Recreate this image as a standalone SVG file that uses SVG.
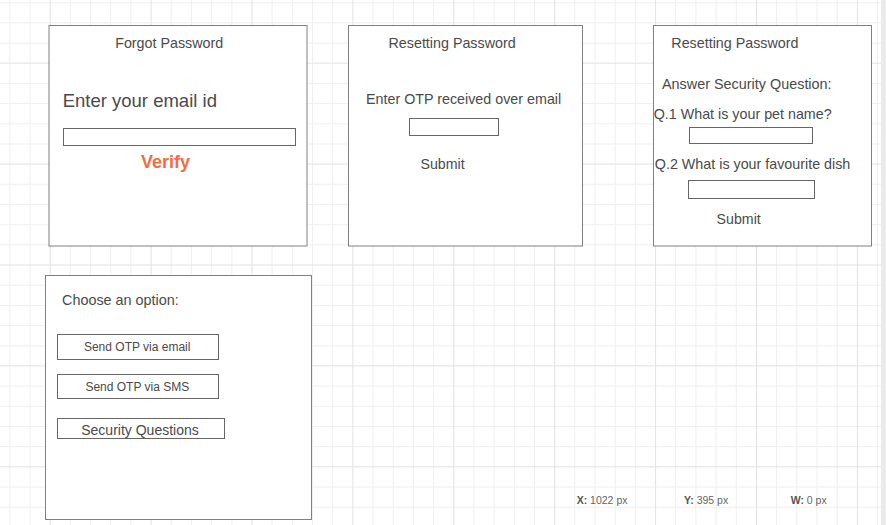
<svg xmlns="http://www.w3.org/2000/svg" width="886" height="525" viewBox="0 0 886 525">
<style>
.minor{stroke:#efefef;stroke-width:1;fill:none}
.major{stroke:#e2e2e2;stroke-width:1;fill:none}
.box{fill:#ffffff;stroke:#808080;stroke-width:1}
.input{fill:#ffffff;stroke:#666666;stroke-width:1}
.t{font-family:"Liberation Sans",Arial,sans-serif;fill:#4a4a4a}
.c{text-anchor:middle}
.st{font-family:"Liberation Sans",Arial,sans-serif;font-size:10.5px;fill:#666666}
.stb{font-weight:bold;fill:#555555}
</style>
<rect x="0" y="0" width="886" height="525" fill="#ffffff"/>
<g id="grid">
<path class="minor" d="M9.8 0V525M30 0V525M70.3 0V525M90.5 0V525M110.7 0V525M130.9 0V525M171.2 0V525M191.4 0V525M211.6 0V525M231.8 0V525M272.1 0V525M292.3 0V525M312.5 0V525M332.7 0V525M373 0V525M393.2 0V525M413.4 0V525M433.6 0V525M473.9 0V525M494.1 0V525M514.3 0V525M534.5 0V525M574.8 0V525M595 0V525M615.2 0V525M635.4 0V525M675.7 0V525M695.9 0V525M716.1 0V525M736.3 0V525M776.6 0V525M796.8 0V525M817 0V525M837.2 0V525M877.5 0V525M0 2.7H886M0 22.9H886M0 43.1H886M0 83.4H886M0 103.6H886M0 123.8H886M0 144H886M0 184.3H886M0 204.5H886M0 224.7H886M0 244.9H886M0 285.2H886M0 305.4H886M0 325.6H886M0 345.8H886M0 386.1H886M0 406.3H886M0 426.5H886M0 446.7H886M0 487H886M0 507.2H886"/>
<path class="major" d="M50.2 0V525M151.1 0V525M252 0V525M352.9 0V525M453.8 0V525M554.7 0V525M655.6 0V525M756.5 0V525M857.4 0V525M0 63.2H886M0 164.1H886M0 265H886M0 365.9H886M0 466.8H886"/>
<rect x="881" y="0" width="5" height="525" fill="#ebebeb"/>
</g>
<g id="connectors"/>
<g id="forgot-password">
<rect class="box" x="49" y="25.5" width="258" height="220.5"/>
<text class="t c" x="169.2" y="47.5" font-size="14.3">Forgot Password</text>
<text class="t" x="62.7" y="107.3" font-size="18.5">Enter your email id</text>
<rect class="input" x="63.5" y="128.5" width="232" height="17"/>
<text class="c" x="165.5" y="168.3" font-family="Liberation Sans, Arial, sans-serif" font-size="18" font-weight="bold" fill="#f36c44">Verify</text>
</g>
<g id="reset-otp">
<rect class="box" x="348.5" y="25.5" width="234" height="220.5"/>
<text class="t c" x="452.1" y="47.5" font-size="14.3">Resetting Password</text>
<text class="t c" x="463.6" y="104" font-size="14.3">Enter OTP received over email</text>
<rect class="input" x="409.5" y="118.5" width="89" height="17"/>
<text class="t c" x="442.5" y="169" font-size="14.2">Submit</text>
</g>
<g id="reset-security">
<rect class="box" x="653.5" y="25.5" width="218" height="220.5"/>
<text class="t c" x="734.9" y="47.5" font-size="14.3">Resetting Password</text>
<text class="t c" x="746.8" y="88.5" font-size="14.4">Answer Security Question:</text>
<text class="t c" x="742.7" y="118.5" font-size="14.3">Q.1 What is your pet name?</text>
<rect class="input" x="689.5" y="127.5" width="123" height="16"/>
<text class="t c" x="752.6" y="169" font-size="14.3">Q.2 What is your favourite dish</text>
<rect class="input" x="688.5" y="180.5" width="126" height="18"/>
<text class="t c" x="738.7" y="224" font-size="14.2">Submit</text>
</g>
<g id="choose-option">
<rect class="box" x="45.5" y="275.5" width="266" height="244"/>
<text class="t" x="62" y="305.3" font-size="14.4">Choose an option:</text>
<g id="btn-email">
<rect class="input" x="57.5" y="334.5" width="161" height="25"/>
<text class="t c" x="137.2" y="351" font-size="12">Send OTP via email</text>
</g>
<g id="btn-sms">
<rect class="input" x="57.5" y="374.5" width="161" height="24"/>
<text class="t c" x="137.3" y="390.7" font-size="12">Send OTP via SMS</text>
</g>
<g id="btn-security">
<rect class="input" x="57.5" y="418.5" width="167" height="20"/>
<text class="t c" x="140" y="435" font-size="14">Security Questions</text>
</g>
</g>
<g id="status">
<text class="st" x="576.7" y="504.3"><tspan class="stb">X:</tspan> 1022 px</text>
<text class="st" x="684" y="504.3"><tspan class="stb">Y:</tspan> 395 px</text>
<text class="st" x="790.7" y="504.3"><tspan class="stb">W:</tspan> 0 px</text>
</g>
</svg>
